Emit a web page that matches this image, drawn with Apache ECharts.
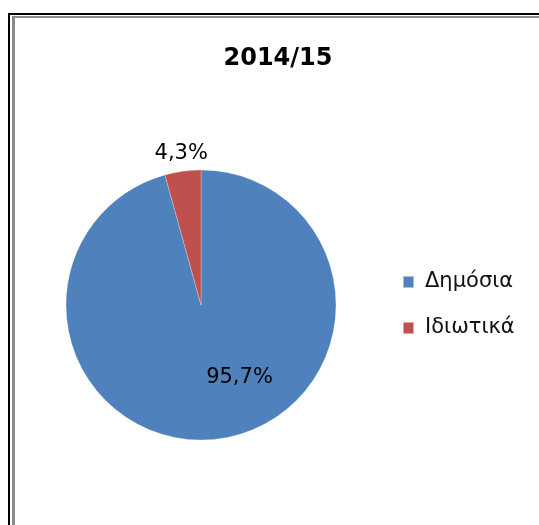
<!DOCTYPE html>
<html>
<head>
<meta charset="utf-8">
<script src="https://cdn.jsdelivr.net/npm/echarts@6/dist/echarts.min.js"></script>
<style>
  html, body { margin: 0; padding: 0; background: #fff; overflow: hidden; }
  #chart { position: absolute; left: 0; top: 0; width: 539px; height: 525px; }
  #frameOuter { position: absolute; left: 8px; top: 13px; width: 600px; height: 600px; border-left: 2px solid #000; border-top: 2px solid #000; }
  #frameInner { position: absolute; left: 12px; top: 16px; width: 600px; height: 600px; border-left: 3px solid #8a8a8a; border-top: 2px solid #8a8a8a; }
</style>
</head>
<body>
<div id="frameOuter"></div>
<div id="frameInner"></div>
<div id="chart"></div>
<script>
const titleText = '2014/15';
const categories = ['Δημόσια', 'Ιδιωτικά'];
const values = [95.7, 4.3];
const colors = ['#4F81BD', '#C0504D'];

const chart = echarts.init(document.getElementById('chart'), null, { renderer: 'canvas' });
const fmt = p => p.value.toFixed(1).replace('.', ',') + '%';

const data = categories.map((name, i) => {
  const item = { name: name, value: values[i], itemStyle: { color: colors[i] } };
  if (i === 0) {
    item.label = { position: 'inside', offset: [29, 3] };
  } else {
    item.label = { position: 'outside', offset: [32, -4] };
    item.labelLine = { show: false, length: 14, length2: 0 };
  }
  return item;
});

chart.setOption({
  backgroundColor: 'transparent',
  animation: false,
  title: {
    text: titleText,
    left: 273,
    textAlign: 'center',
    top: 42,
    textStyle: { fontFamily: 'DejaVu Sans', fontWeight: 'bold', fontSize: 24, color: '#000' }
  },
  legend: {
    orient: 'vertical',
    left: 397,
    top: 265,
    icon: 'rect',
    itemWidth: 11,
    itemHeight: 12,
    itemGap: 22,
    textStyle: { fontFamily: 'DejaVu Sans', fontSize: 21, color: '#111', lineHeight: 24, padding: [0, 0, 0, 6] },
    data: categories
  },
  series: [{
    type: 'pie',
    center: [201, 305],
    radius: 135,
    startAngle: 90,
    clockwise: true,
    silent: true,
    itemStyle: { borderColor: 'rgba(255,255,255,0.5)', borderWidth: 0.5 },
    label: {
      show: true,
      formatter: fmt,
      fontFamily: 'DejaVu Sans',
      fontSize: 21,
      color: '#000'
    },
    labelLine: { show: false },
    data: data
  }]
});
</script>
</body>
</html>
